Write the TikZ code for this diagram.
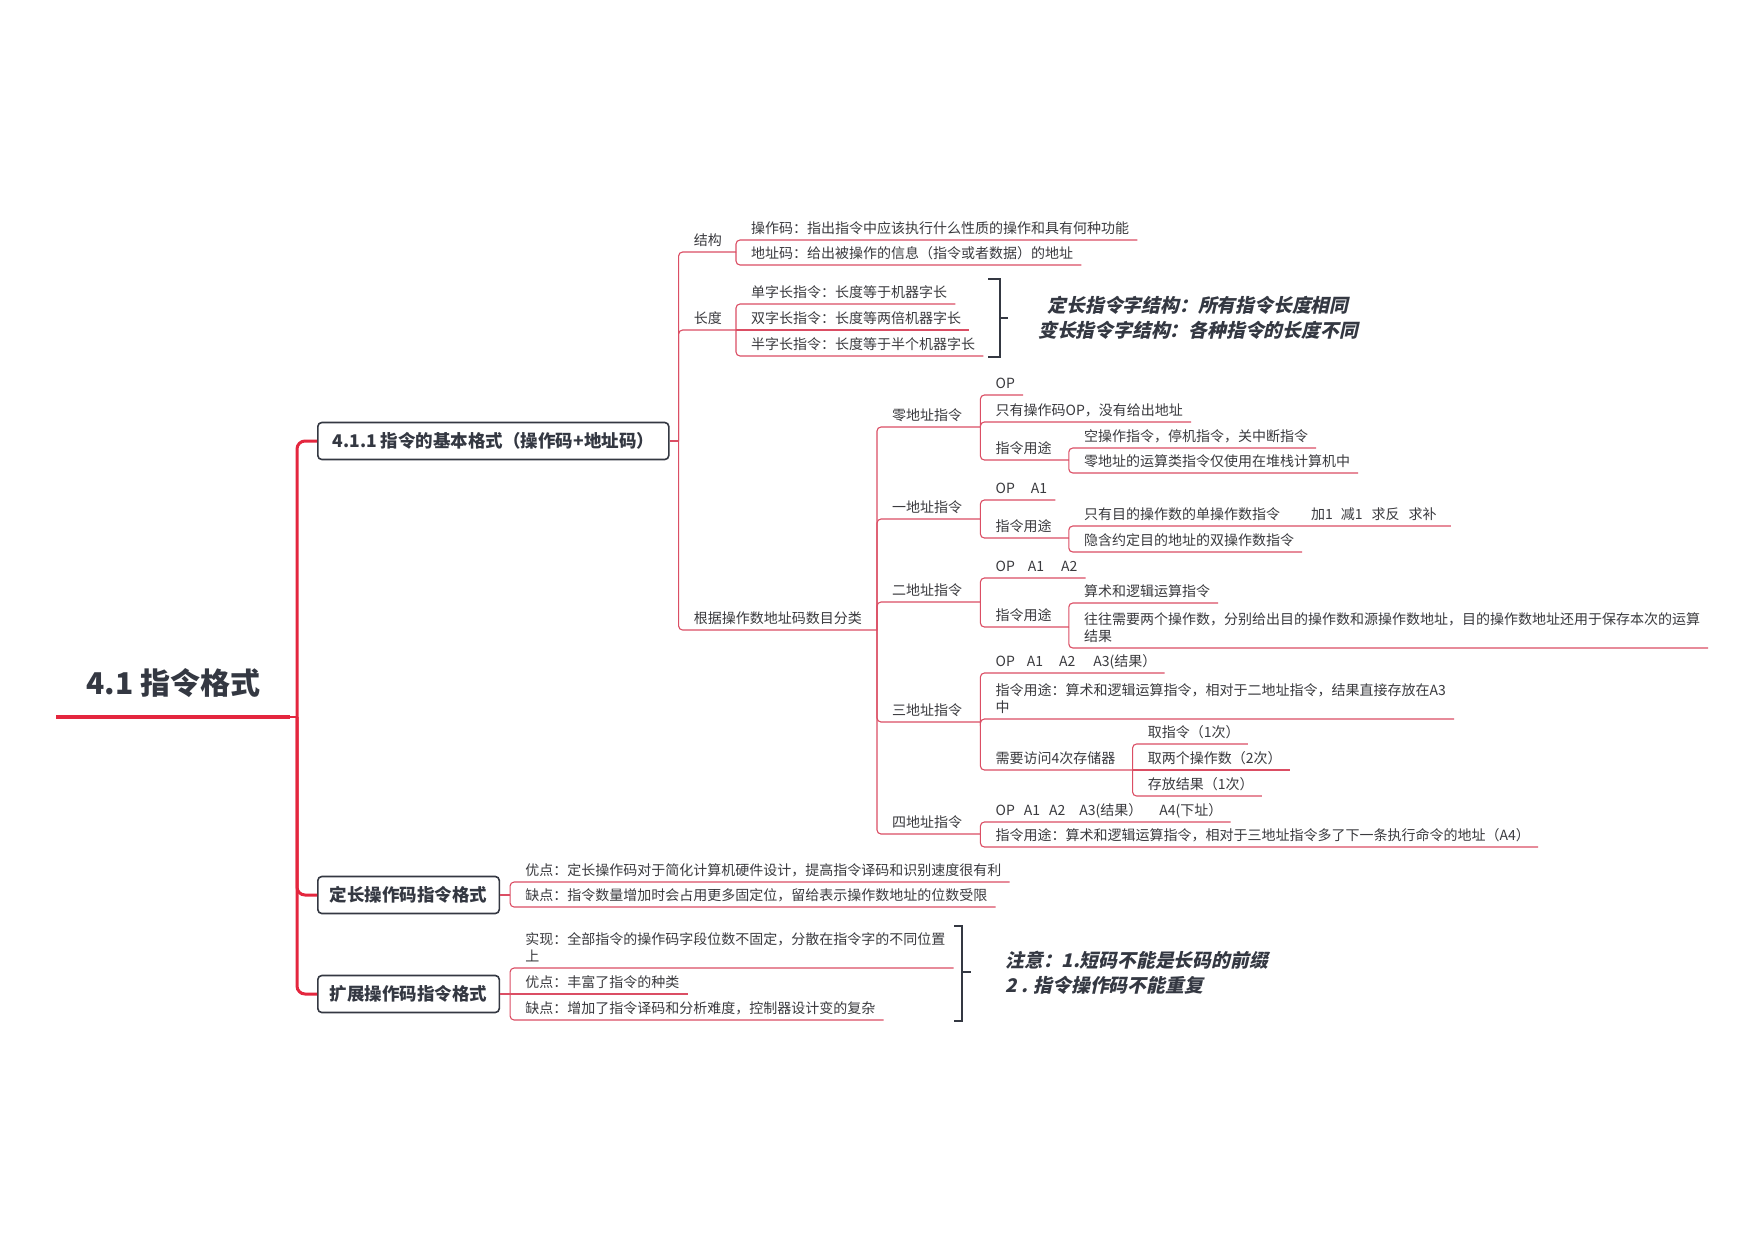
\documentclass[tikz,border=0pt]{standalone}
\usepackage{fontspec}
\setmainfont{Noto Sans CJK SC}
\newfontfamily\notefont{Noto Sans CJK SC}[FakeSlant=0.22]
\usetikzlibrary{calc}

\definecolor{linkred}{RGB}{219,78,100}
\definecolor{trunkred}{RGB}{228,38,62}
\definecolor{inkgray}{RGB}{52,56,66}
\definecolor{textgray}{RGB}{58,58,62}

\tikzset{
	topic/.style={anchor=south west, inner xsep=0pt, inner ysep=4.5pt, xshift=15pt, align=left,
		font=\fontsize{14}{17}\selectfont, text=textgray, text height=12.3pt, text depth=1.7pt},
	link/.style={draw=linkred, line width=1.1pt, rounded corners=4pt},
	trunk/.style={draw=trunkred, line width=3pt, rounded corners=8pt},
	mainbox/.style={draw=inkgray, line width=1.6pt, rounded corners=4pt, anchor=west, inner xsep=12pt,
		minimum height=37pt, font=\fontsize{17.5}{20}\selectfont\bfseries, text=inkgray},
	brace/.style={draw=inkgray, line width=2.6pt},
	note/.style={font=\fontsize{18.8}{25}\selectfont\notefont\bfseries, text=inkgray}
}

\begin{document}
\begin{tikzpicture}[x=1pt, y=-1pt]
		\fill[white] (0,0) rectangle (1755,1240);
		\useasboundingbox (0,0) rectangle (1755,1240);

		% root and trunk
		\node[anchor=south west, minimum width=234pt, inner xsep=0pt, inner ysep=19pt, text=inkgray,
			font=\fontsize{30}{34}\selectfont\bfseries, text height=26.4pt, text depth=3.6pt] (root) at (56,717) {4.1 指令格式};
		\draw[trunkred, line width=4.5pt] (root.south west) -- (root.south east);
		\coordinate (rootfork) at (297,717);
		\draw[trunkred, line width=1.5pt] (root.south east) -- (rootfork);

		\node[mainbox, minimum width=351pt] (basic) at (317,441) {4.1.1 指令的基本格式（操作码+地址码）};
		\node[mainbox] (fixed) at (317,895) {定长操作码指令格式};
		\node[mainbox] (ext) at (317,994) {扩展操作码指令格式};

		\draw[trunk] (rootfork) |- (basic.west);
		\draw[trunk] (rootfork) |- (fixed.west);
		\draw[trunk] (rootfork) |- (ext.west);

		% 4.1.1
		\draw[link] (basic.east) -- ++(9pt,0) coordinate (basicfork);

		\node[topic] (struct) at (basicfork |- 0,252) {结构};
		\node[topic] (len) at (basicfork |- 0,330) {长度};
		\node[topic] (byaddr) at (basicfork |- 0,630) {根据操作数地址码数目分类};
		\draw[link] (basicfork) |- ([xshift=14pt]struct.south east) coordinate (structfork);
		\draw[link] (basicfork) |- ([xshift=14pt]len.south east) coordinate (lenfork);
		\draw[link] (basicfork) |- ([xshift=15pt]byaddr.south east) coordinate (byaddrfork);

		\node[topic] (opcode) at (structfork |- 0,240) {操作码：指出指令中应该执行什么性质的操作和具有何种功能};
		\node[topic] (addrcode) at (structfork |- 0,265) {地址码：给出被操作的信息（指令或者数据）的地址};
		\draw[link] (structfork) |- ([xshift=8pt]opcode.south east);
		\draw[link] (structfork) |- ([xshift=8pt]addrcode.south east);

		\node[topic] (single) at (lenfork |- 0,304) {单字长指令：长度等于机器字长};
		\node[topic] (double) at (lenfork |- 0,330) {双字长指令：长度等两倍机器字长};
		\node[topic] (half) at (lenfork |- 0,356) {半字长指令：长度等于半个机器字长};
		\draw[link] (lenfork) |- ([xshift=8pt]single.south east);
		\draw[link] (lenfork) -- ([xshift=8pt]double.south east);
		\draw[link] (lenfork) |- ([xshift=8pt]half.south east);

		\draw[brace] (988,279) -- (1000,279) -- (1000,357) -- (988,357);
		\draw[brace] (1000,318) -- (1008,318);
		\node[note, align=center] (lennote) at (1198,318) {定长指令字结构：所有指令长度相同\\变长指令字结构：各种指令的长度不同};

		% by number of address fields
		\node[topic] (zero) at (byaddrfork |- 0,427) {零地址指令};
		\node[topic] (one) at (byaddrfork |- 0,519) {一地址指令};
		\node[topic] (two) at (byaddrfork |- 0,602) {二地址指令};
		\node[topic] (three) at (byaddrfork |- 0,722) {三地址指令};
		\node[topic] (four) at (byaddrfork |- 0,834) {四地址指令};
		\foreach \n in {zero,one,two,three,four}
			\draw[link] (byaddrfork) |- ([xshift=18pt]\n.south east) coordinate (\n fork);

		\node[topic] (zop) at (zerofork |- 0,395) {OP};
		\node[topic] (zonly) at (zerofork |- 0,422) {只有操作码OP，没有给出地址};
		\node[topic] (zuse) at (zerofork |- 0,460) {指令用途};
		\draw[link] (zerofork) |- ([xshift=8pt]zop.south east);
		\draw[link] (zerofork) |- ([xshift=8pt]zonly.south east);
		\draw[link] (zerofork) |- ([xshift=17pt]zuse.south east) coordinate (zusefork);
		\node[topic] (znop) at (zusefork |- 0,448) {空操作指令，停机指令，关中断指令};
		\node[topic] (zstack) at (zusefork |- 0,473) {零地址的运算类指令仅使用在堆栈计算机中};
		\draw[link] (zusefork) |- ([xshift=8pt]znop.south east);
		\draw[link] (zusefork) |- ([xshift=8pt]zstack.south east);

		\node[topic] (oop) at (onefork |- 0,500) {OP\hspace{16pt}A1};
		\node[topic] (ouse) at (onefork |- 0,538) {指令用途};
		\draw[link] (onefork) |- ([xshift=8pt]oop.south east);
		\draw[link] (onefork) |- ([xshift=17pt]ouse.south east) coordinate (ousefork);
		\node[topic] (osingle) at (ousefork |- 0,526) {只有目的操作数的单操作数指令\hspace{31pt}加1\hspace{8pt}减1\hspace{9pt}求反\hspace{9pt}求补};
		\node[topic] (oimplied) at (ousefork |- 0,552) {隐含约定目的地址的双操作数指令};
		\draw[link] (ousefork) |- ([xshift=14pt]osingle.south east);
		\draw[link] (ousefork) |- ([xshift=8pt]oimplied.south east);

		\node[topic] (twop) at (twofork |- 0,578) {OP\hspace{13pt}A1\hspace{17pt}A2};
		\node[topic] (twuse) at (twofork |- 0,627) {指令用途};
		\draw[link] (twofork) |- ([xshift=8pt]twop.south east);
		\draw[link] (twofork) |- ([xshift=17pt]twuse.south east) coordinate (twusefork);
		\node[topic] (twarith) at (twusefork |- 0,603) {算术和逻辑运算指令};
		\node[topic] (twboth) at (twusefork |- 0,648) {往往需要两个操作数，分别给出目的操作数和源操作数地址，目的操作数地址还用于保存本次的运算\\结果};
		\draw[link] (twusefork) |- ([xshift=8pt]twarith.south east);
		\draw[link] (twusefork) |- ([xshift=8pt]twboth.south east);

		\node[topic] (thop) at (threefork |- 0,673) {OP\hspace{12pt}A1\hspace{16pt}A2\hspace{18pt}A3(结果）};
		\node[topic] (thuse) at (threefork |- 0,719) {指令用途：算术和逻辑运算指令，相对于二地址指令，结果直接存放在A3\\中};
		\node[topic] (thmem) at (threefork |- 0,770) {需要访问4次存储器};
		\draw[link] (threefork) |- ([xshift=8pt]thop.south east);
		\draw[link] (threefork) |- ([xshift=8pt]thuse.south east);
		\draw[link] (threefork) |- ([xshift=17pt]thmem.south east) coordinate (thmemfork);
		\node[topic] (fetch) at (thmemfork |- 0,744) {取指令（1次）};
		\node[topic] (fetchop) at (thmemfork |- 0,770) {取两个操作数（2次）};
		\node[topic] (store) at (thmemfork |- 0,796) {存放结果（1次）};
		\draw[link] (thmemfork) |- ([xshift=8pt]fetch.south east);
		\draw[link] (thmemfork) -- ([xshift=8pt]fetchop.south east);
		\draw[link] (thmemfork) |- ([xshift=8pt]store.south east);

		\node[topic] (fop) at (fourfork |- 0,822) {OP\hspace{9pt}A1\hspace{9pt}A2\hspace{14pt}A3(结果）\hspace{17pt}A4(下址）};
		\node[topic] (fuse) at (fourfork |- 0,847) {指令用途：算术和逻辑运算指令，相对于三地址指令多了下一条执行命令的地址（A4）};
		\draw[link] (fourfork) |- ([xshift=8pt]fop.south east);
		\draw[link] (fourfork) |- ([xshift=8pt]fuse.south east);

		% fixed-length opcode
		\draw[link] (fixed.east) -- ++(10pt,0) coordinate (fixedfork);
		\node[topic] (fixpro) at (fixedfork |- 0,882) {优点：定长操作码对于简化计算机硬件设计，提高指令译码和识别速度很有利};
		\node[topic] (fixcon) at (fixedfork |- 0,907) {缺点：指令数量增加时会占用更多固定位，留给表示操作数地址的位数受限};
		\draw[link] (fixedfork) |- ([xshift=8pt]fixpro.south east);
		\draw[link] (fixedfork) |- ([xshift=8pt]fixcon.south east);

		% expanding opcode
		\draw[link] (ext.east) -- ++(10pt,0) coordinate (extfork);
		\node[topic] (extimpl) at (extfork |- 0,968) {实现：全部指令的操作码字段位数不固定，分散在指令字的不同位置\\上};
		\node[topic] (extpro) at (extfork |- 0,994) {优点：丰富了指令的种类};
		\node[topic] (extcon) at (extfork |- 0,1020) {缺点：增加了指令译码和分析难度，控制器设计变的复杂};
		\draw[link] (extfork) |- ([xshift=8pt]extimpl.south east);
		\draw[link] (extfork) -- ([xshift=8pt]extpro.south east);
		\draw[link] (extfork) |- ([xshift=8pt]extcon.south east);

		\draw[brace] (954,926) -- (962,926) -- (962,1021) -- (954,1021);
		\draw[brace] (962,972) -- (971,972);
		\node[note, align=left, anchor=west] (extnote) at (1002,973) {注意：1.短码不能是长码的前缀\\2 . 指令操作码不能重复};
	\end{tikzpicture}
\end{document}
